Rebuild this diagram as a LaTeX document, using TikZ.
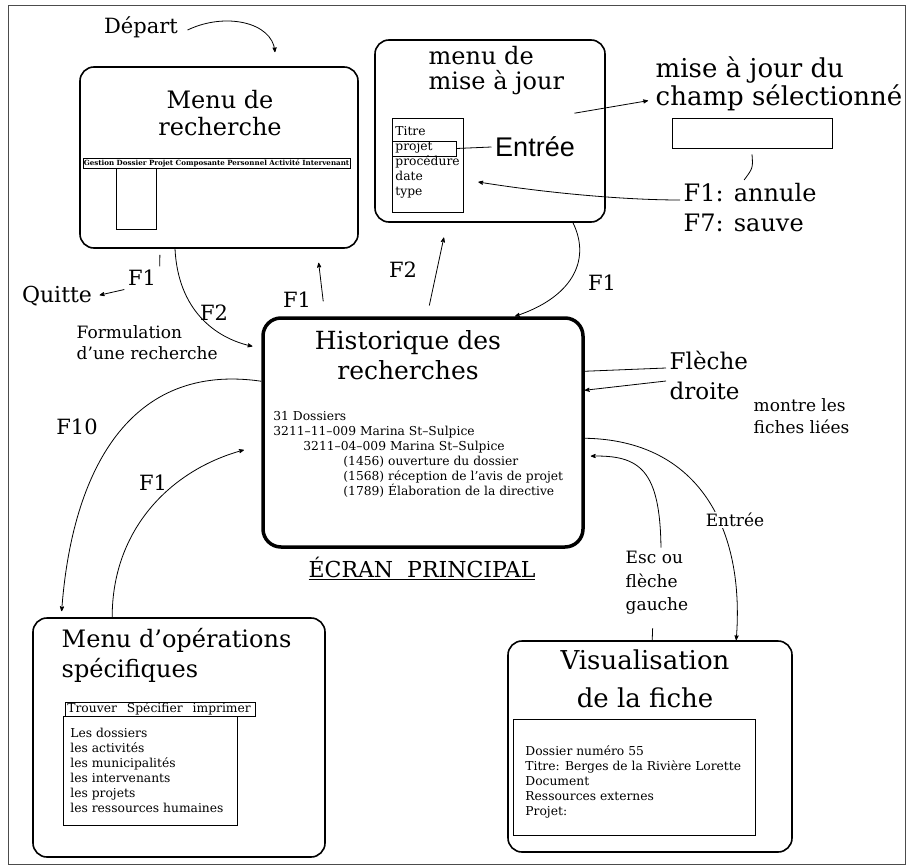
\documentclass[tikz,border=0pt]{standalone}
\usepackage{fontspec}
\setmainfont{DejaVu Serif}
\newfontfamily\sansfont{Liberation Sans}
\usetikzlibrary{arrows,positioning}

\begin{document}
\begin{tikzpicture}[x=1pt,y=-1pt,->,>=stealth',line width=0.8pt]
\tikzstyle{ecran}=[draw,rounded corners=14pt,line width=1.6pt,inner sep=0pt]
\tikzstyle{titre}=[font=\fontsize{24}{27}\selectfont,align=center]
\tikzstyle{touche}=[font=\fontsize{21}{24}\selectfont]
\tikzstyle{etiq}=[font=\fontsize{17}{21}\selectfont,align=left]
\tikzstyle{liste}=[font=\fontsize{12.3}{15}\selectfont,align=left,inner sep=0pt]
\tikzstyle{cadre}=[draw,line width=0.6pt,inner sep=0pt]

\useasboundingbox (0,0) rectangle (907,867);
\draw[-,line width=0.8pt,black!70] (8,5) rectangle (905,864);

% les ecrans
\node[ecran,minimum width=278pt,minimum height=181pt] (recherche) at (219,157.5) {};
\node[ecran,minimum width=230pt,minimum height=182pt] (majour) at (490,131) {};
\node[ecran,line width=3.5pt,rounded corners=18pt,minimum width=320pt,minimum height=229pt] (hist) at (423,432.5) {};
\node[ecran,minimum width=292pt,minimum height=239pt] (operations) at (179,737.5) {};
\node[ecran,minimum width=284pt,minimum height=211pt] (visu) at (650,746.5) {};

% menu de recherche
\node[titre] (rechtitre) at (220,113) {Menu de\\recherche};
\node[cadre,minimum width=267pt,minimum height=10pt,font=\bfseries\fontsize{7.1}{8}\selectfont] (barre) at (216.5,163) {Gestion Dossier Projet Composante Personnel Activité Intervenant};
\node[cadre,minimum width=40pt,minimum height=61pt] (deroul) at (136,198.5) {};

% menu de mise a jour
\node[titre,align=left,anchor=west,font=\fontsize{24}{25}\selectfont] (majtitre) at (425,71) {menu de\\mise à jour};
\node[cadre,minimum width=71pt,minimum height=94pt] (majliste) at (427.5,165) {};
\node[liste,anchor=west] (champs) at (395,162.5) {Titre\\projet\\procédure\\date\\type};
\node[cadre,minimum width=64pt,minimum height=15pt] (projetsel) at (424,148.5) {};
\node[font=\sansfont\fontsize{27}{30}\selectfont] (entree) at (535,147) {Entrée};
\node[font=\fontsize{26}{25}\selectfont,align=left,anchor=west] (champ) at (652,84) {mise à jour du\\champ sélectionné};
\node[cadre,minimum width=160pt,minimum height=30pt] (saisie) at (752,133) {};
\node[font=\fontsize{24}{30}\selectfont,align=left,anchor=west] (annule) at (680,208) {F1: annule\\F7: sauve};

% ecran principal
\node[titre,font=\fontsize{25}{30}\selectfont] (histtitre) at (408,355) {Historique des\\recherches};
\node[liste,anchor=west] (histliste) at (273,454.5) {31 Dossiers\\3211–11–009 Marina St–Sulpice\\\hspace*{30pt}3211–04–009 Marina St–Sulpice\\\hspace*{70pt}(1456) ouverture du dossier\\\hspace*{70pt}(1568) réception de l'avis de projet\\\hspace*{70pt}(1789) Élaboration de la directive};
\node[font=\fontsize{22}{24}\selectfont] (principal) at (422,568) {\underline{ÉCRAN\hspace{14pt}PRINCIPAL}};

% visualisation
\node[titre,font=\fontsize{26}{38}\selectfont] (visutitre) at (645,679) {Visualisation\\de la fiche};
\node[cadre,minimum width=242pt,minimum height=116pt] (fiche) at (634,777) {};
\node[liste,anchor=west] (fichetexte) at (525,782) {Dossier numéro 55\\Titre: Berges de la Rivière Lorette\\Document\\Ressources externes\\Projet:};

% operations specifiques
\node[titre,align=left,anchor=west,font=\fontsize{24}{30}\selectfont] (optitre) at (58,655) {Menu d'opérations\\spécifiques};
\node[cadre,minimum width=190pt,minimum height=14pt] (opbarre) at (160,709) {};
\node[liste,anchor=west] (opmenu) at (67,709) {Trouver\hspace{10pt}Spécifier\hspace{10pt}imprimer};
\node[cadre,minimum width=174pt,minimum height=109pt] (opliste) at (150,770.5) {};
\node[liste,anchor=west] (optexte) at (70,770.5) {Les dossiers\\les activités\\les municipalités\\les intervenants\\les projets\\les ressources humaines};

% etiquettes
\node[touche] (depart) at (141,27) {Départ};
\node[touche,font=\fontsize{22}{24}\selectfont] (quitte) at (57,296) {Quitte};
\node[touche] (fquitte) at (142,278) {F1};
\node[touche] (fformul) at (214,313) {F2};
\node[etiq,anchor=west] (formul) at (73,343) {Formulation\\d'une recherche};
\node[touche] (fretour) at (297,300) {F1};
\node[touche] (fmaj) at (403,270) {F2};
\node[touche] (fsortie) at (602,283) {F1};
\node[touche] (fdix) at (77,427) {F10};
\node[touche] (fop) at (153,483) {F1};
\node[font=\fontsize{23}{30}\selectfont,align=left,anchor=west] (fleche) at (666,375) {Flèche\\droite};
\node[etiq,font=\fontsize{17}{22}\selectfont,anchor=west] (liees) at (750,416) {montre les\\fiches liées};
\node[etiq,font=\fontsize{17}{23.5}\selectfont,anchor=west] (esc) at (622,583) {Esc ou\\flèche\\gauche};

% les transitions
\draw ([xshift=6pt,yshift=-3pt]depart.east) .. controls (225,12) and (272,22) .. ([xshift=56pt,yshift=14pt]recherche.north);
\draw[-,shorten <=6pt] ([xshift=-59pt]recherche.south) -- (fquitte.north east);
\draw[shorten >=4pt] (fquitte.south west) -- (quitte.east);
\draw[shorten >=9pt] ([xshift=-44pt]recherche.south) .. controls (178,310) and (215,338) .. ([yshift=-32pt]hist.north west);
\draw[shorten <=15pt,shorten >=14pt] ([xshift=-98pt]hist.north) -- ([xshift=98pt]recherche.south);
\draw[shorten <=11pt,shorten >=15pt] ([xshift=4pt]hist.north) -- ([xshift=-43pt]majour.south);
\draw ([xshift=83pt]majour.south) .. controls (592,262) and (570,298) .. ([xshift=92pt]hist.north);
\draw[-] (projetsel.east) -- (entree.west);
\draw[shorten >=4pt] ([xshift=-4pt,yshift=20pt]entree.north east) -- ([yshift=-16pt]champ.west);
\draw[-] ([yshift=-6pt]saisie.south) .. controls (753,168) .. ([xshift=-6pt]annule.north);
\draw ([yshift=8pt]annule.west) .. controls (620,200) and (540,192) .. ([xshift=15pt,yshift=-17pt]majliste.east);
\draw[shorten >=6pt] ([yshift=-65pt]hist.north west) .. controls (130,362) and (72,470) .. ([xshift=29pt]operations.north west);
\draw[shorten >=18pt] ([xshift=80pt]operations.north west) .. controls (112,530) and (170,470) .. ([yshift=-129pt]hist.north west);
\draw[-] ([yshift=-55pt]hist.north east) -- ([yshift=7pt]fleche.west);
\draw ([yshift=-6pt]fleche.west) -- ([yshift=-74pt]hist.north east);
\draw ([yshift=-122pt]hist.north east) .. controls (700,440) and (745,530) .. ([xshift=229pt]visu.north west);
\node[etiq,fill=white,inner sep=1pt] (entreefiche) at (735,520) {Entrée};
\draw[shorten >=6pt] ([xshift=4pt]esc.north) .. controls (660,470) and (640,455) .. ([yshift=-140pt]hist.north east);
\draw[-,shorten <=10pt] ([xshift=-4pt]esc.south) -- ([xshift=145pt]visu.north west);
\end{tikzpicture}
\end{document}
